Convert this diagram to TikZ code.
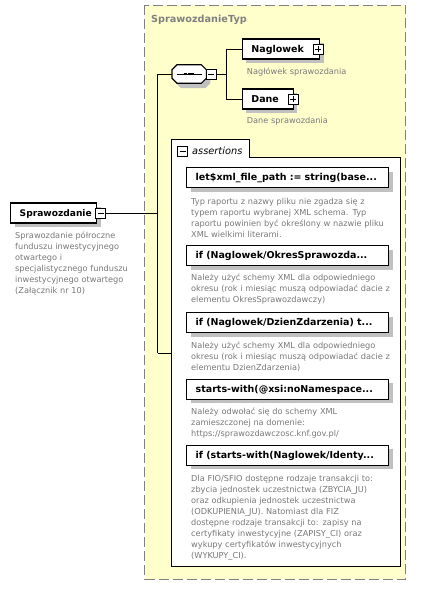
\documentclass[tikz,border=0pt]{standalone}
\usepackage{fontspec}
\setmainfont{DejaVu Sans}
\usetikzlibrary{shadows}
\definecolor{ybg}{RGB}{255,255,204}
\definecolor{dgray}{RGB}{128,128,128}
\definecolor{tgray}{RGB}{120,120,120}
\definecolor{shgray}{RGB}{192,192,192}
\begin{document}
\begin{tikzpicture}[x=1pt,y=-1pt,
  conn/.style={line width=1pt, black},
  elbox/.style={draw, line width=1.4pt, fill=white,
    general shadow={fill=shgray, shadow xshift=4pt, shadow yshift=-4pt},
    font=\fontsize{9.5}{11}\selectfont\bfseries, text height=8.5pt, text depth=1.7pt,
    inner xsep=9pt, inner ysep=0pt, minimum height=20pt, anchor=west, align=left},
  btn/.style={draw, line width=0.8pt, fill=white, minimum size=10pt, inner sep=0pt},
  minusbtn/.style={btn, path picture={\draw[line width=0.8pt] ([xshift=-3pt]path picture bounding box.center) -- ([xshift=3pt]path picture bounding box.center);}},
  plusbtn/.style={btn, path picture={\draw[line width=0.8pt] ([xshift=-3pt]path picture bounding box.center) -- ([xshift=3pt]path picture bounding box.center) ([yshift=-3pt]path picture bounding box.center) -- ([yshift=3pt]path picture bounding box.center);}},
  desc/.style={font=\fontsize{8.2}{11}\selectfont, text=tgray, align=left, inner sep=0pt, anchor=base west, text width=215pt},
]
\useasboundingbox (0,0) rectangle (424,597);
\fill[white] (0,0) rectangle (424,597);
% outer complex type box
\draw[dgray, dash pattern=on 10pt off 4pt, line width=1pt, fill=ybg] (144.5,5) rectangle (405.5,579);
\node[font=\fontsize{9.7}{11}\selectfont\bfseries, text=dgray, anchor=base west, inner sep=0pt] (title) at (151,23) {SprawozdanieTyp};

% root element
\node[elbox, text width=68pt, font=\fontsize{9.1}{11}\selectfont\bfseries] (spr) at (10,213) {\mbox{Sprawozdanie}};
\node[minusbtn] (sprmin) at (100.5,213) {};
\node[desc, text width=140pt] (sprdesc) at (15,238) {Sprawozdanie półroczne\\funduszu inwestycyjnego\\otwartego i\\specjalistycznego funduszu\\inwestycyjnego otwartego\\(Załącznik nr 10)};

% junctions
\coordinate (jt) at (157.5,74);
\coordinate (jb) at (157.5,353);
\coordinate (cj) at (226,74);

% sequence compositor
\node[minimum width=34pt, minimum height=18pt, inner sep=0pt] (seq) at (189.2,74) {};
\fill[shgray, transform canvas={shift={(4pt,-5pt)}}] ([xshift=5pt]seq.north west) -- ([xshift=-5pt]seq.north east) -- ([yshift=-5pt]seq.north east) -- ([yshift=5pt]seq.south east) -- ([xshift=-5pt]seq.south east) -- ([xshift=5pt]seq.south west) -- ([yshift=5pt]seq.south west) -- ([yshift=-5pt]seq.north west) -- cycle;
\draw[line width=1.2pt, fill=white] ([xshift=5pt]seq.north west) -- ([xshift=-5pt]seq.north east) -- ([yshift=-5pt]seq.north east) -- ([yshift=5pt]seq.south east) -- ([xshift=-5pt]seq.south east) -- ([xshift=5pt]seq.south west) -- ([yshift=5pt]seq.south west) -- ([yshift=-5pt]seq.north west) -- cycle;
\draw[line width=1pt] ([xshift=-12.5pt]seq.center) -- ([xshift=12.5pt]seq.center);
\foreach \dx in {-3.6,0,3.6} \fill ([xshift=\dx pt]seq.center) +(-1.4pt,-1.4pt) rectangle +(1.4pt,1.4pt);
\node[minusbtn] (seqmin) at (211.2,74) {};

% children
\node[elbox, text width=59.3pt] (nag) at (241.7,49) {\mbox{Naglowek}};
\node[plusbtn] (nagplus) at (318,49) {};
\node[desc, text width=150pt] (nagdesc) at (246.7,74.7) {Nagłówek sprawozdania};
\node[elbox, text width=33pt] (dane) at (241.7,99) {\mbox{Dane}};
\node[plusbtn] (daneplus) at (293.3,99) {};
\node[desc, text width=150pt] (danedesc) at (246.7,123.7) {Dane sprawozdania};

% assertions
\node[fill=white, minimum width=228pt, minimum height=408pt, inner sep=0pt] (asrt) at (286,362) {};
\draw[line width=1.2pt] (asrt.south west) -- ([yshift=18.7pt]asrt.north west) -- ++(78pt,0pt) -- ([xshift=78pt]asrt.north west) -- (asrt.north east) -- (asrt.south east) -- cycle;
\fill[white] ([xshift=0.6pt,yshift=-0.6pt]asrt.north west) rectangle ([xshift=77.4pt,yshift=18.1pt]asrt.north west);
\node[minusbtn] (asmin) at (182.7,151) {};
\node[font=\fontsize{9.8}{11}\selectfont\itshape, anchor=base west, inner sep=0pt] (astitle) at (192,154.5) {assertions};

\node[elbox, text width=184pt] (a1) at (186,177.5) {\mbox{let\$xml\_file\_path := string(base...}};
\node[desc] (d1) at (191,204.5) {Typ raportu z nazwy pliku nie zgadza się z\\typem raportu wybranej XML schema. Typ\\raportu powinien być określony w nazwie pliku\\XML wielkimi literami.};
\node[elbox, text width=184pt] (a2) at (186,255.5) {\mbox{if (Naglowek/OkresSprawozda...}};
\node[desc] (d2) at (191,280.5) {Należy użyć schemy XML dla odpowiedniego\\okresu (rok i miesiąc muszą odpowiadać dacie z\\elementu OkresSprawozdawczy)};
\node[elbox, text width=184pt] (a3) at (186,322.5) {\mbox{if (Naglowek/DzienZdarzenia) t...}};
\node[desc] (d3) at (191,348.3) {Należy użyć schemy XML dla odpowiedniego\\okresu (rok i miesiąc muszą odpowiadać dacie z\\elementu DzienZdarzenia)};
\node[elbox, text width=184pt] (a4) at (186,389.2) {\mbox{starts-with(@xsi:noNamespace...}};
\node[desc] (d4) at (191,414.8) {Należy odwołać się do schemy XML\\zamieszczonej na domenie:\\https://sprawozdawczosc.knf.gov.pl/};
\node[elbox, text width=184pt] (a5) at (186,455.4) {\mbox{if (starts-with(Naglowek/Identy...}};
\node[desc] (d5) at (191,481) {Dla FIO/SFIO dostępne rodzaje transakcji to:\\zbycia jednostek uczestnictwa (ZBYCIA\_JU)\\oraz odkupienia jednostek uczestnictwa\\(ODKUPIENIA\_JU). Natomiast dla FIZ\\dostępne rodzaje transakcji to: zapisy na\\certyfikaty inwestycyjne (ZAPISY\_CI) oraz\\wykupy certyfikatów inwestycyjnych\\(WYKUPY\_CI).};

% connectors
\draw[conn] (sprmin.east) -- (sprmin.east -| jt);
\draw[conn] (jt) -- (jb);
\draw[conn] (jt) -- (seq.west);
\draw[conn] (jb) -- (asrt.west |- jb);
\draw[conn] (seqmin.east) -- (cj);
\draw[conn] (nag.west) -| (cj);
\draw[conn] (dane.west) -| (cj);
\end{tikzpicture}
\end{document}
